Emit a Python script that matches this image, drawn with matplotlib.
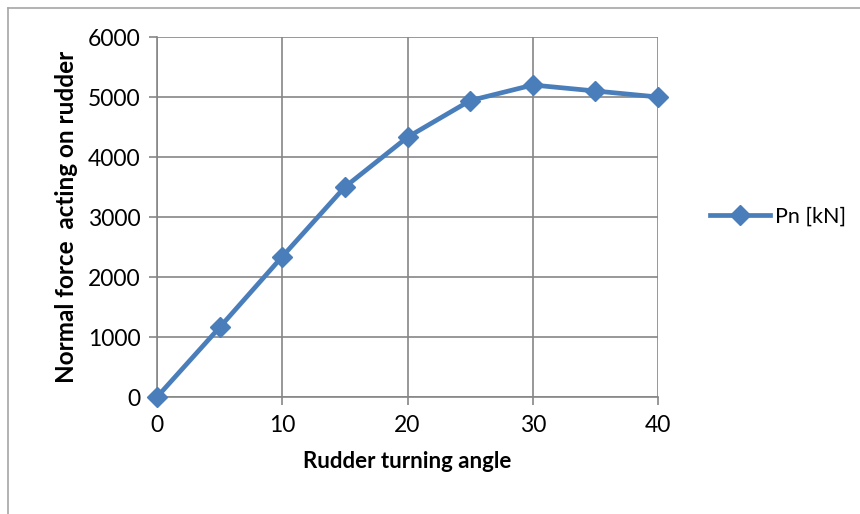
import matplotlib.pyplot as plt
from matplotlib.lines import Line2D

# rudder angle (deg) vs normal force on rudder (kN)
angle = [0, 5, 10, 15, 20, 25, 30, 35, 40]
normal_force = [0, 1160, 2340, 3500, 4330, 4940, 5200, 5100, 5000]
x_ticks = [0, 10, 20, 30, 40]
y_ticks = [0, 1000, 2000, 3000, 4000, 5000, 6000]

plt.rcParams['font.family'] = ['Lato', 'DejaVu Sans']

blue = '#4a7ebb'
grid_gray = '#868686'

fig = plt.figure(figsize=(8.6, 5.14), dpi=100, facecolor='white')
ax = fig.add_axes([157 / 860, 1 - 397 / 514, 501 / 860, 360 / 514])

ax.plot(angle, normal_force, color=blue, linewidth=3.4, marker='D',
        markersize=10.5, markeredgecolor=blue, label='Pn [kN]',
        clip_on=False, zorder=3)

ax.set_xlim(0, 40)
ax.set_ylim(0, 6000)
ax.set_xticks(x_ticks)
ax.set_yticks(y_ticks)
ax.grid(True, color=grid_gray, linewidth=1.2)
ax.set_axisbelow(True)
for side in ['top', 'right']:
    ax.spines[side].set_visible(False)
for side in ['left', 'bottom']:
    ax.spines[side].set_color(grid_gray)
    ax.spines[side].set_linewidth(1.2)
ax.tick_params(axis='both', direction='out', length=6, width=1.2,
               color=grid_gray, labelsize=16.5, labelcolor='black')
ax.tick_params(axis='x', pad=7)
ax.tick_params(axis='y', pad=6)

ax.set_xlabel('Rudder turning angle', fontsize=16, fontweight='bold', labelpad=11)
ax.set_ylabel('Normal force  acting on rudder', fontsize=17.5, fontweight='bold',
              labelpad=7)

ax.legend(loc='center left', bbox_to_anchor=(1.065, 0.5), frameon=False,
          fontsize=15.5, handlelength=2.8, handletextpad=0.2)

# outer chart frame (top and left edges)
fig.add_artist(Line2D([8 / 860, 8 / 860], [0, 1 - 8 / 514],
                      transform=fig.transFigure, color='#a6a6a6', linewidth=1.2))
fig.add_artist(Line2D([8 / 860, 1], [1 - 8 / 514, 1 - 8 / 514],
                      transform=fig.transFigure, color='#a6a6a6', linewidth=1.2))

fig.savefig('out.png', dpi=100, facecolor='white')
